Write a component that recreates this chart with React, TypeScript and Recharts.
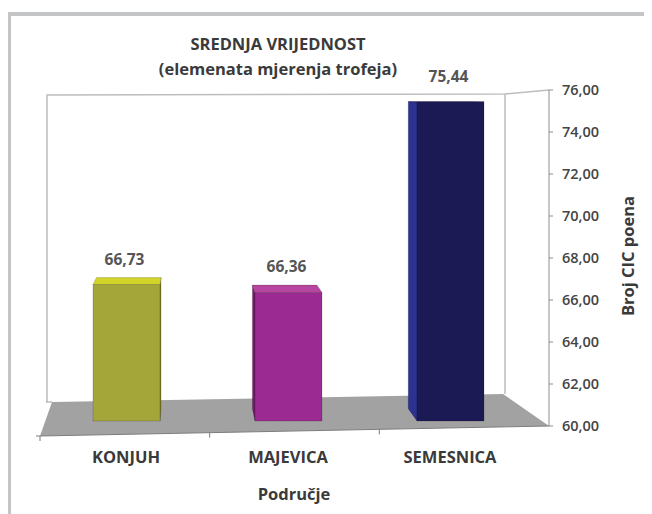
import React from "react";
import { Bar, BarChart, LabelList, XAxis, YAxis } from "recharts";

// chart data
const CATEGORIES = ["KONJUH", "MAJEVICA", "SEMESNICA"];
const VALUES = [66.73, 66.36, 75.44];
const Y_TICKS = [60, 62, 64, 66, 68, 70, 72, 74, 76];
const TITLE_LINES = ["SREDNJA VRIJEDNOST", "(elemenata mjerenja trofeja)"];
const X_TITLE = "Područje";
const Y_TITLE = "Broj CIC poena";

const data = CATEGORIES.map((name, i) => ({ name, value: VALUES[i] }));

// layout
const W = 652;
const H = 514;
const PLOT = { left: 45, right: 549, top: 90, bottom: 426 };
const Y_AXIS_W = 60;
const X_AXIS_H = 30;
const FONT = "'Open Sans', 'Noto Sans', sans-serif";
const TEXT = "#3a3a3a";

// fake 3d: back points are pulled toward a vanishing point
const VP = { x: 187, y: 98 };
const DEPTH = 0.038;

const PALETTE = [
  { front: "#a4a63a", top: "#d3d42a", side: "#8a8b2a" },
  { front: "#9b2a92", top: "#b8459f", side: "#761d70" },
  { front: "#1c1a55", top: "#34399a", side: "#2d3290" },
];

const fmt = (v: number) => v.toFixed(2).replace(".", ",");
const pts = (p: number[][]) => p.map((q) => q.join(",")).join(" ");

function Box3D(props: any) {
  const { x, y, width, height, index } = props;
  const c = PALETTE[index % PALETTE.length];
  const bottom = y + height - 5;
  const proj = (px: number, py: number) => [px + (VP.x - px) * DEPTH, py + (VP.y - py) * DEPTH];
  const edge = { stroke: "rgba(0,0,0,0.28)", strokeWidth: 0.6 };
  return (
    <g>
      {VP.x < x && (
        <polygon points={pts([[x, y], proj(x, y), proj(x, bottom), [x, bottom]])} fill={c.side} {...edge} />
      )}
      {VP.x > x + width && (
        <polygon
          points={pts([[x + width, y], proj(x + width, y), proj(x + width, bottom), [x + width, bottom]])}
          fill={c.side}
          {...edge}
        />
      )}
      {VP.y < y && (
        <polygon points={pts([[x, y], [x + width, y], proj(x + width, y), proj(x, y)])} fill={c.top} {...edge} />
      )}
      <rect x={x} y={y} width={width} height={bottom - y} fill={c.front} {...edge} />
    </g>
  );
}

function ValueLabel(props: any) {
  const { x, y, width, value } = props;
  return (
    <text
      x={x + width / 2 - 2}
      y={y - 20}
      textAnchor="middle"
      fontFamily={FONT}
      fontSize={15.5}
      fontWeight={700}
      fill="#555"
    >
      {fmt(value)}
    </text>
  );
}

// walls, floor and static texts
function Scene() {
  const frontL = [PLOT.left - 5, PLOT.bottom + 10];
  const frontR = [PLOT.right, PLOT.bottom];
  const backR = [503, 394];
  const backL = [52, 402];
  const wallTop = 95;
  const bounds = [0, 1, 2, 3].map((i) => {
    const t = i / 3;
    return [frontL[0] + (frontR[0] - frontL[0]) * t, frontL[1] + (frontR[1] - frontL[1]) * t];
  });
  return (
    <g>
      <polyline
        points={pts([[47, backL[1]], [47, wallTop], [505, wallTop - 1], [PLOT.right, PLOT.top]])}
        fill="none"
        stroke="#bdbdbd"
        strokeWidth={1.5}
      />
      <line x1={505} y1={wallTop - 1} x2={505} y2={backR[1]} stroke="#bdbdbd" strokeWidth={1.5} />
      <polygon points={pts([frontL, frontR, backR, backL])} fill="#a2a2a2" />
      <line x1={frontL[0]} y1={frontL[1]} x2={frontR[0]} y2={frontR[1]} stroke="#7d7d7d" strokeWidth={1} />
      {bounds.slice(0, 3).map((b, i) => (
        <line key={i} x1={b[0]} y1={b[1]} x2={b[0]} y2={b[1] + 5} stroke="#7d7d7d" strokeWidth={1} />
      ))}
      <line x1={frontL[0] - 4} y1={frontL[1]} x2={frontL[0]} y2={frontL[1]} stroke="#7d7d7d" />
      <line x1={backL[0] - 6} y1={backL[1]} x2={backL[0]} y2={backL[1]} stroke="#9a9a9a" />
      {TITLE_LINES.map((t, i) => (
        <text
          key={t}
          x={278}
          y={50 + i * 25}
          textAnchor="middle"
          fontFamily={FONT}
          fontSize={16.5}
          fontWeight={700}
          fill={TEXT}
        >
          {t}
        </text>
      ))}
      <text x={294} y={500} textAnchor="middle" fontFamily={FONT} fontSize={16.5} fontWeight={700} fill={TEXT}>
        {X_TITLE}
      </text>
      <text
        x={634}
        y={256}
        transform="rotate(-90 634 256)"
        textAnchor="middle"
        fontFamily={FONT}
        fontSize={16.5}
        fontWeight={700}
        fill={TEXT}
      >
        {Y_TITLE}
      </text>
    </g>
  );
}

export default function App() {
  return (
    <div style={{ position: "relative", width: W, height: H, margin: "-8px 0 0 -8px", overflow: "hidden", background: "#fff" }}>
      <div
        style={{
          position: "absolute",
          left: 7,
          top: 12,
          width: W - 7,
          height: H - 12,
          boxSizing: "border-box",
          borderTop: "4px solid #c4c5c7",
          borderLeft: "4px solid #c4c5c7",
        }}
      />
      <div style={{ position: "absolute", left: 0, top: 0 }}>
        <BarChart
          width={W}
          height={H}
          data={data}
          barSize={67}
          margin={{
            top: PLOT.top,
            left: PLOT.left,
            right: W - PLOT.right - Y_AXIS_W,
            bottom: H - PLOT.bottom - X_AXIS_H,
          }}
        >
          <Scene />
          <XAxis
            dataKey="name"
            height={X_AXIS_H}
            padding={{ left: 0, right: 18 }}
            axisLine={false}
            tickLine={false}
            tickSize={0}
            tickMargin={25}
            tick={{ fontFamily: FONT, fontSize: 16.5, fontWeight: 700, fill: TEXT }}
            interval={0}
          />
          <YAxis
            orientation="right"
            width={Y_AXIS_W}
            domain={[60, 76]}
            ticks={Y_TICKS}
            allowDataOverflow
            tickFormatter={fmt}
            axisLine={{ stroke: "#8e8e8e" }}
            tickLine={{ stroke: "#8e8e8e" }}
            tickSize={4}
            tickMargin={9}
            tick={{ fontFamily: FONT, fontSize: 14.5, fontWeight: 600, fill: "#444", textAnchor: "start" }}
          />
          <Bar dataKey="value" shape={<Box3D />} isAnimationActive={false}>
            <LabelList dataKey="value" content={<ValueLabel />} />
          </Bar>
        </BarChart>
      </div>
    </div>
  );
}
